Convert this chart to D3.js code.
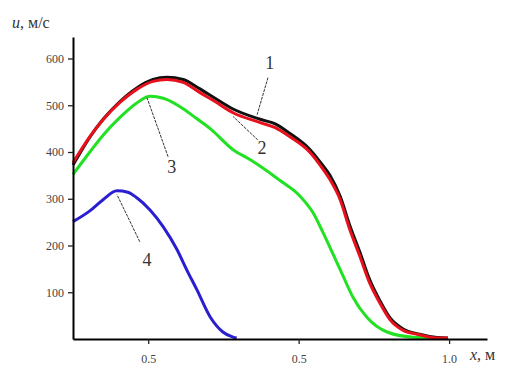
<!DOCTYPE html>
<html>
<head>
<meta charset="utf-8">
<script src="https://cdn.jsdelivr.net/npm/d3@7/dist/d3.min.js"></script>
<style>
  body { margin: 0; background: #fff; }
  svg { display: block; }
</style>
</head>
<body>
<svg width="510" height="369"></svg>
<script>
// x in metres, u in m/s
var xs1 = [0.375, 0.403, 0.425, 0.453, 0.481, 0.508, 0.531, 0.558, 0.586, 0.611, 0.641, 0.686, 0.711, 0.735, 0.769, 0.785, 0.802, 0.819, 0.835, 0.852, 0.868, 0.885, 0.902, 0.923, 0.951, 0.980, 0.998];
var u1  = [372, 432, 470, 508, 537, 555, 560, 555, 535, 515, 492, 470, 460, 440, 405, 380, 350, 305, 243, 185, 127, 82, 45, 22, 10, 3, 2];
var xs2 = [0.375, 0.403, 0.425, 0.453, 0.481, 0.508, 0.531, 0.558, 0.586, 0.611, 0.641, 0.686, 0.711, 0.735, 0.769, 0.785, 0.802, 0.819, 0.835, 0.852, 0.868, 0.885, 0.902, 0.923, 0.951, 0.980, 0.998];
var u2  = [377, 433, 469, 506, 534, 551, 555, 549, 527, 508, 484, 463, 452, 433, 399, 373, 341, 298, 234, 176, 120, 77, 41, 19, 9, 2, 2];
var xs3 = [0.375, 0.403, 0.425, 0.453, 0.481, 0.503, 0.525, 0.553, 0.581, 0.603, 0.641, 0.669, 0.697, 0.719, 0.752, 0.774, 0.790, 0.807, 0.823, 0.840, 0.863, 0.897, 0.940, 0.985];
var u3  = [352, 400, 436, 474, 505, 519, 515, 497, 471, 450, 405, 384, 360, 339, 306, 270, 229, 182, 137, 90, 47, 15, 4, 2];
var xs4 = [0.375, 0.403, 0.425, 0.448, 0.466, 0.481, 0.503, 0.525, 0.548, 0.564, 0.581, 0.603, 0.624, 0.641, 0.647];
var u4  = [251, 274, 298, 317, 314, 302, 276, 240, 191, 148, 105, 47, 15, 4, 2];

var yTicks = [100, 200, 300, 400, 500, 600];
var xTicks = [0.5, 0.75, 1.0];
var xTickLabels = ["0.5", "0.5", "1.0"];

// curve labels: text position and leader line (data units)
var labels = ["1", "2", "3", "4"];
var labelAt = [[0.702, 590], [0.689, 409], [0.539, 369], [0.498, 169]];
var leaderFrom = [[0.699, 559], [0.682, 426], [0.533, 390], [0.486, 208]];
var leaderTo = [[0.681, 480], [0.641, 476], [0.498, 516], [0.448, 309]];

var svg = d3.select("svg");

var x = d3.scaleLinear().domain([0.375, 1.063]).range([73, 487]);
var y = d3.scaleLinear().domain([0, 646]).range([339, 37]);

var series = [
  { xs: xs4, us: u4, color: "#2a1fd0" },
  { xs: xs3, us: u3, color: "#22e022" },
  { xs: xs1, us: u1, color: "#111" },
  { xs: xs2, us: u2, color: "#e8101c" }
];

var line = d3.line()
  .x(function(d) { return x(d[0]); })
  .y(function(d) { return y(d[1]); })
  .curve(d3.curveMonotoneX);

svg.append("g")
  .selectAll("path")
  .data(series)
  .enter().append("path")
  .attr("d", function(s) { return line(d3.zip(s.xs, s.us)); })
  .attr("fill", "none")
  .attr("stroke", function(s) { return s.color; })
  .attr("stroke-width", 3)
  .attr("stroke-linejoin", "round");

// axes
var yAxis = svg.append("g")
  .attr("transform", "translate(73,0)")
  .call(d3.axisLeft(y).tickValues(yTicks).tickSize(5).tickPadding(4).tickSizeOuter(0));
var xAxis = svg.append("g")
  .attr("transform", "translate(0,339)")
  .call(d3.axisBottom(x).tickValues(xTicks).tickSize(5).tickPadding(10).tickSizeOuter(0)
    .tickFormat(function(d, i) { return xTickLabels[i]; }));

[yAxis, xAxis].forEach(function(g) {
  g.attr("font-family", "'Liberation Serif', serif");
  g.select(".domain").attr("stroke", "#000").attr("stroke-width", 2);
  g.selectAll(".tick line").attr("stroke", "#222").attr("stroke-width", 1.3);
  g.selectAll(".tick text")
    .attr("fill", "#444")
    .attr("font-size", "12px");
});

// leader lines and numbers
svg.append("g")
  .selectAll("line")
  .data(labels)
  .enter().append("line")
  .attr("x1", function(d, i) { return x(leaderFrom[i][0]); })
  .attr("y1", function(d, i) { return y(leaderFrom[i][1]); })
  .attr("x2", function(d, i) { return x(leaderTo[i][0]); })
  .attr("y2", function(d, i) { return y(leaderTo[i][1]); })
  .attr("stroke", "#333")
  .attr("stroke-width", 1)
  .attr("stroke-dasharray", "3,1");

svg.append("g")
  .selectAll("text")
  .data(labels)
  .enter().append("text")
  .attr("x", function(d, i) { return x(labelAt[i][0]); })
  .attr("y", function(d, i) { return y(labelAt[i][1]); })
  .attr("dy", "0.35em")
  .attr("text-anchor", "middle")
  .attr("font-family", "'Liberation Serif', serif")
  .attr("font-size", "18px")
  .attr("fill", "#333")
  .text(function(d) { return d; });

// axis titles
var yt = svg.append("text")
  .attr("x", 12).attr("y", 28)
  .attr("font-family", "'Liberation Serif', serif")
  .attr("font-size", "16px")
  .attr("fill", "#333");
yt.append("tspan").attr("font-style", "italic").text("u");
yt.append("tspan").text(", м/с");

var xt = svg.append("text")
  .attr("x", 470).attr("y", 360)
  .attr("font-family", "'Liberation Serif', serif")
  .attr("font-size", "16px")
  .attr("fill", "#333");
xt.append("tspan").attr("font-style", "italic").text("x");
xt.append("tspan").text(", м");
</script>
</body>
</html>
